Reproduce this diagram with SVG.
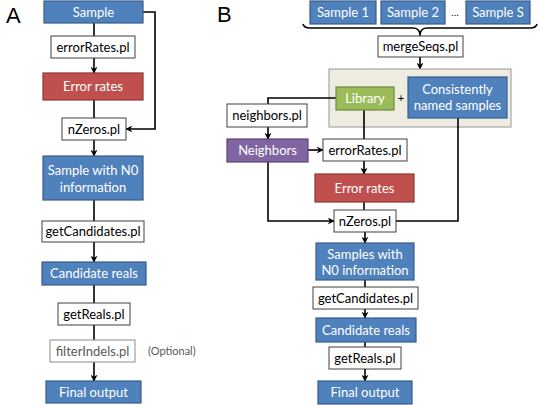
<svg xmlns="http://www.w3.org/2000/svg" width="540" height="405" viewBox="0 0 540 405">
<defs>
<marker id="arr" viewBox="0 0 10 10" refX="9" refY="5" markerWidth="7" markerHeight="7" markerUnits="userSpaceOnUse" orient="auto">
<path d="M0,0 L10,5 L0,10 L3,5 z" fill="#000"/>
</marker>
<style>
text{font-family:Lato,"Liberation Sans",sans-serif;font-size:13px;text-anchor:middle}
.blue{fill:#4F81BD;stroke:#385D8A;stroke-width:1.2}
.red{fill:#C0504D;stroke:#8C3836;stroke-width:1.2}
.green{fill:#9BBB59;stroke:#71893F;stroke-width:1.2}
.purple{fill:#8064A2;stroke:#5C4776;stroke-width:1.2}
.white{fill:#fff;stroke:#404040;stroke-width:1}
.grey{fill:#fff;stroke:#8C8C8C;stroke-width:1}
.beige{fill:#EEECE1;stroke:#A6A6A6;stroke-width:1.2}
.wt{fill:#fff}
.bt{fill:#000}
.gt{fill:#595959}
.lbl{font-family:"Liberation Sans",sans-serif;font-size:22px;text-anchor:start;fill:#000}
.c{fill:none;stroke:#000;stroke-width:1.6}
.a{fill:none;stroke:#000;stroke-width:1.6;marker-end:url(#arr)}
</style>
</defs>
<rect width="540" height="405" fill="#fff"/>
<text class="lbl" x="6" y="23">A</text>
<text class="lbl" x="217" y="22">B</text>

<g id="connectors">
<path class="c" d="M94,23 V36"/>
<path class="a" d="M94,58 V73"/>
<path class="c" d="M94,100 V118"/>
<path class="a" d="M94,140 V156"/>
<path class="c" d="M94,200 V221"/>
<path class="a" d="M94,242 V262"/>
<path class="c" d="M94,285 V303"/>
<path class="c" d="M94,325 V340"/>
<path class="a" d="M94,362 V381"/>
<path class="a" d="M143,12 H155 V129 H126"/>
<path class="c" d="M303,24 Q304,28 310,28 H413 Q419,28 420,34 Q421,28 427,28 H530 Q536,28 537,24"/>
<path class="c" d="M420,34 V36"/>
<path class="a" d="M420,57 V69"/>
</g>

<g id="panelA">
<g id="a-sample"><rect class="blue" x="44" y="1" width="99" height="22"/><text class="wt" x="93.5" y="16.5">Sample</text></g>
<g id="a-errorRates-pl"><rect class="white" x="51" y="36" width="84" height="22"/><text class="bt" x="93" y="51.5">errorRates.pl</text></g>
<g id="a-error-rates"><rect class="red" x="43" y="73" width="100" height="27"/><text class="wt" x="93" y="91">Error rates</text></g>
<g id="a-nZeros"><rect class="white" x="62" y="118" width="64" height="22"/><text class="bt" x="94" y="133.5">nZeros.pl</text></g>
<g id="a-sample-n0"><rect class="blue" x="43" y="156" width="100" height="44"/><text class="wt" x="93" y="175">Sample with N0</text><text class="wt" x="93" y="192">information</text></g>
<g id="a-getCandidates"><rect class="white" x="42" y="221" width="102" height="21"/><text class="bt" x="93" y="236">getCandidates.pl</text></g>
<g id="a-candidate-reals"><rect class="blue" x="42" y="262" width="104" height="23"/><text class="wt" x="94" y="278">Candidate reals</text></g>
<g id="a-getReals"><rect class="white" x="58" y="303" width="72" height="22"/><text class="bt" x="94" y="318.5">getReals.pl</text></g>
<g id="a-filterIndels"><rect class="grey" x="50" y="340" width="85" height="22"/><text class="gt" x="92.5" y="355.5">filterIndels.pl</text><text class="gt" x="148" y="355" style="text-anchor:start;font-size:11px">(Optional)</text></g>
<g id="a-final"><rect class="blue" x="46" y="381" width="95" height="22"/><text class="wt" x="93.5" y="396.5">Final output</text></g>
</g>

<g id="panelB">
<g id="b-sample1"><rect class="blue" x="310" y="1" width="66" height="23"/><text class="wt" x="343" y="17">Sample 1</text></g>
<g id="b-sample2"><rect class="blue" x="381" y="1" width="64" height="23"/><text class="wt" x="413" y="17">Sample 2</text></g>
<text class="bt" x="455" y="16" style="font-size:10px">…</text>
<g id="b-sampleS"><rect class="blue" x="466" y="1" width="64" height="23"/><text class="wt" x="498" y="17">Sample S</text></g>
<g id="b-mergeSeqs"><rect class="white" x="378" y="36" width="85" height="21"/><text class="bt" x="420.5" y="51">mergeSeqs.pl</text></g>
<g id="b-group"><rect class="beige" x="329" y="69" width="182" height="58"/></g>
<g id="b-connectors">
<path class="c" d="M336,98 H268 V104"/>
<path class="a" d="M268,127 V139"/>
<path class="a" d="M308,150 H323"/>
<path class="c" d="M364,110 V139"/>
<path class="a" d="M364,161 V174"/>
<path class="c" d="M364,202 V210"/>
<path class="a" d="M268,162 V221 H334"/>
<path class="c" d="M458,118 V221 H396"/>
<path class="a" d="M365,232 V243"/>
<path class="c" d="M365,280 V287"/>
<path class="a" d="M365,309 V318"/>
<path class="c" d="M365,342 V347"/>
<path class="a" d="M365,369 V381"/>
</g>
<g id="b-library"><rect class="green" x="336" y="87" width="58" height="23"/><text class="wt" x="365" y="103">Library</text></g>
<text class="bt" x="401" y="102" style="font-size:11px">+</text>
<g id="b-consistent"><rect class="blue" x="408" y="77" width="99" height="41"/><text class="wt" x="457.5" y="94">Consistently</text><text class="wt" x="457.5" y="110">named samples</text></g>
<g id="b-neighbors-pl"><rect class="white" x="227" y="104" width="80" height="23"/><text class="bt" x="267" y="120">neighbors.pl</text></g>
<g id="b-neighbors"><rect class="purple" x="227" y="139" width="81" height="23"/><text class="wt" x="267.5" y="155">Neighbors</text></g>
<g id="b-errorRates-pl"><rect class="white" x="323" y="139" width="84" height="22"/><text class="bt" x="365" y="154.5">errorRates.pl</text></g>
<g id="b-error-rates"><rect class="red" x="315" y="174" width="99" height="28"/><text class="wt" x="364.5" y="192.5">Error rates</text></g>
<g id="b-nZeros"><rect class="white" x="334" y="210" width="62" height="22"/><text class="bt" x="365" y="225.5">nZeros.pl</text></g>
<g id="b-samples-n0"><rect class="blue" x="316" y="243" width="98" height="37"/><text class="wt" x="365" y="259">Samples with</text><text class="wt" x="365" y="275">N0 information</text></g>
<g id="b-getCandidates"><rect class="white" x="313" y="287" width="105" height="22"/><text class="bt" x="365.5" y="302.5">getCandidates.pl</text></g>
<g id="b-candidate-reals"><rect class="blue" x="316" y="318" width="100" height="24"/><text class="wt" x="366" y="334.5">Candidate reals</text></g>
<g id="b-getReals"><rect class="white" x="329" y="347" width="72" height="22"/><text class="bt" x="365" y="362.5">getReals.pl</text></g>
<g id="b-final"><rect class="blue" x="318" y="381" width="94" height="23"/><text class="wt" x="365" y="397">Final output</text></g>
</g>
</svg>
